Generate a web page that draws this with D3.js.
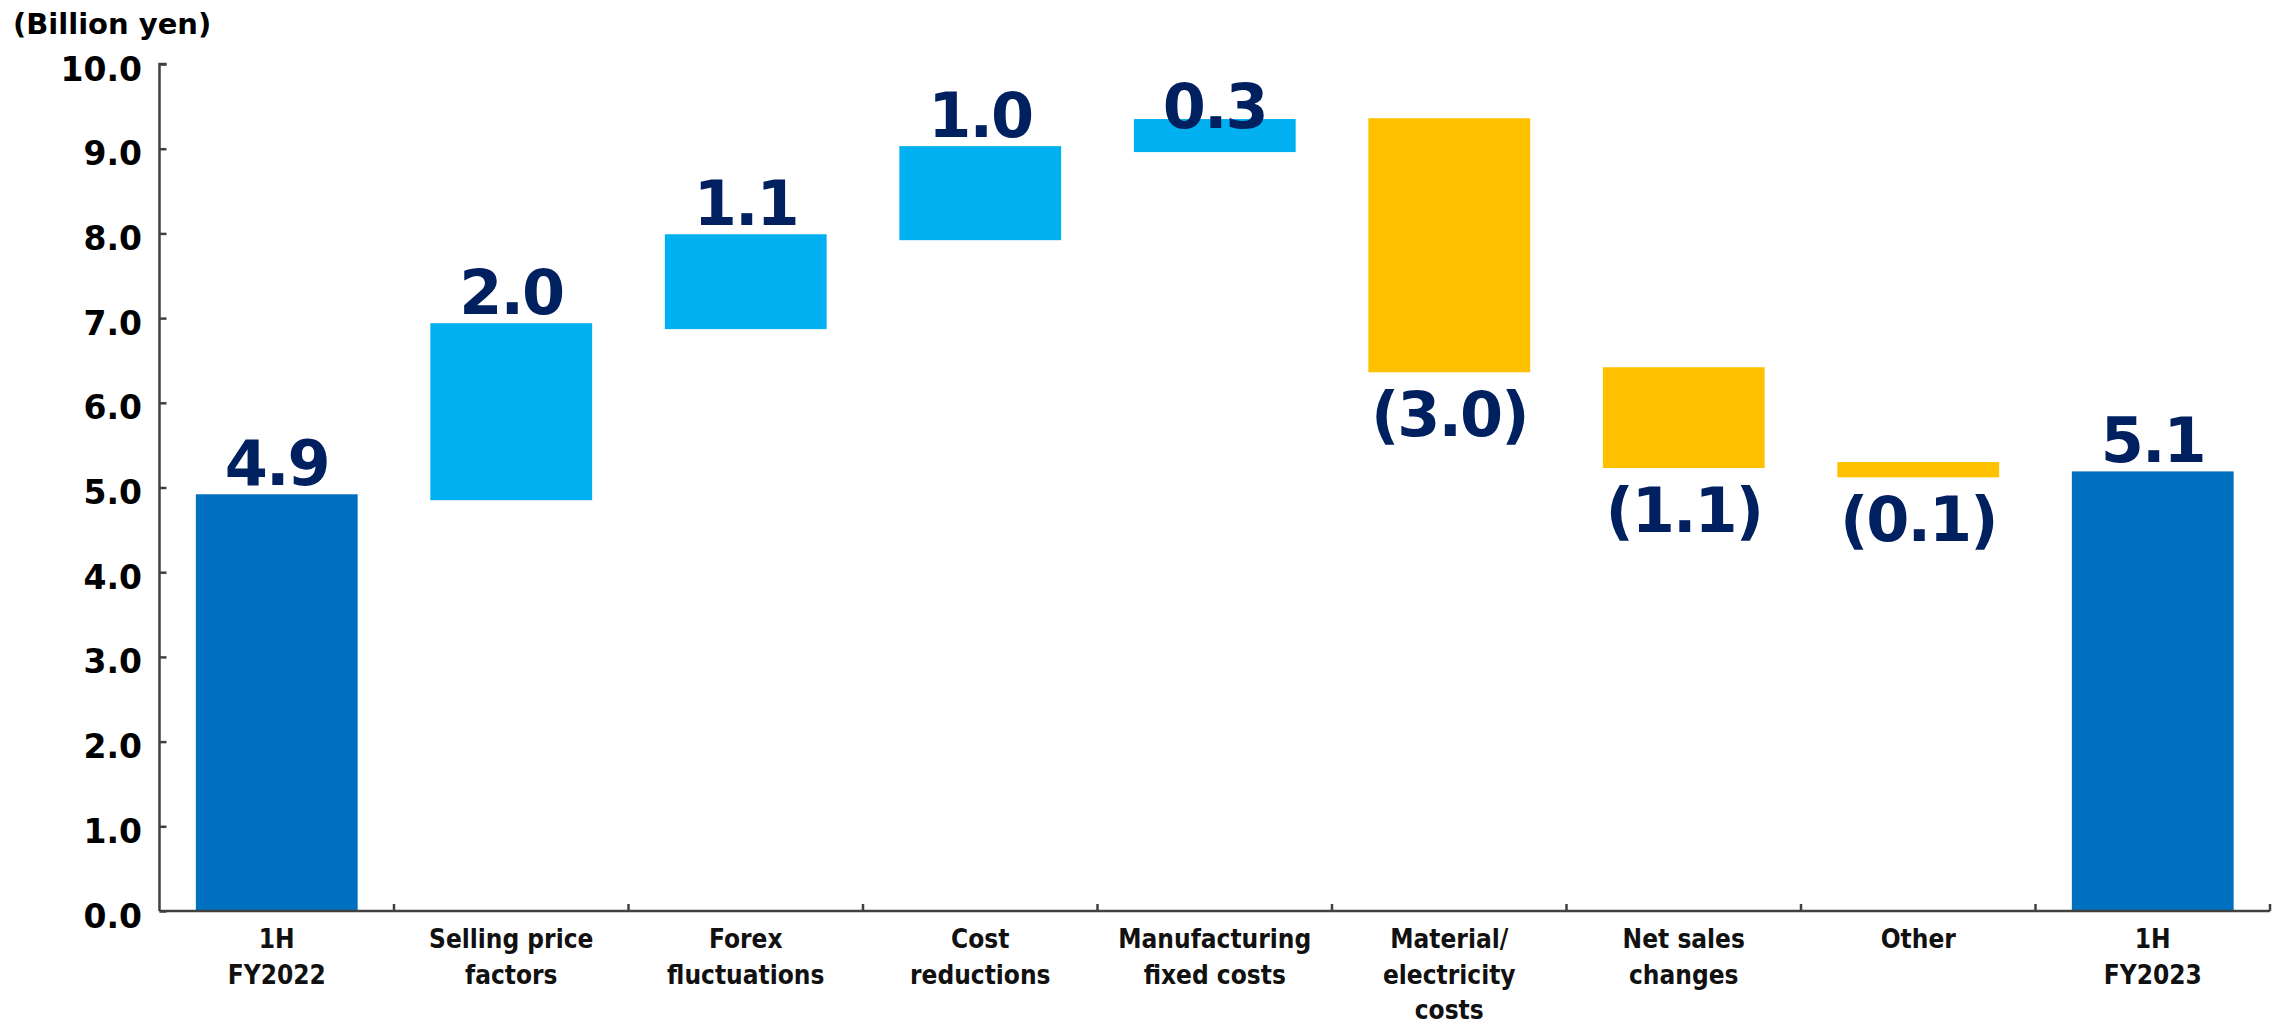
<!DOCTYPE html>
<html>
<head>
<meta charset="utf-8">
<script src="https://cdn.jsdelivr.net/npm/d3@7"></script>
<style>
  html, body { margin: 0; padding: 0; background: #fff; }
  svg { display: block; }
</style>
</head>
<body>
<svg id="chart" width="2285" height="1026"></svg>
<script>
// ---- data ----
const categories = [
  ["1H", "FY2022"],
  ["Selling price", "factors"],
  ["Forex", "fluctuations"],
  ["Cost", "reductions"],
  ["Manufacturing", "fixed costs"],
  ["Material/", "electricity", "costs"],
  ["Net sales", "changes"],
  ["Other"],
  ["1H", "FY2023"]
];
const valueLabels = ["4.9", "2.0", "1.1", "1.0", "0.3", "(3.0)", "(1.1)", "(0.1)", "5.1"];
const barStart = [0, 4.85, 6.87, 7.92, 8.96, 9.36, 6.42, 5.30, 0];
const barEnd   = [4.92, 6.94, 7.99, 9.03, 9.35, 6.36, 5.23, 5.12, 5.19];
const barKind  = ["total", "up", "up", "up", "up", "down", "down", "down", "total"];
const yTickValues = [0, 1, 2, 3, 4, 5, 6, 7, 8, 9, 10];
const unitLabel = "(Billion yen)";

// ---- layout ----
const svg = d3.select("#chart");
const plotLeft = 159.5, plotRight = 2270, plotTop = 64, plotBottom = 911;
const colors = { total: "#0070C0", up: "#00B0F0", down: "#FFC000" };
const labelColor = "#002060";

const x = d3.scaleBand()
  .domain(d3.range(categories.length))
  .range([plotLeft, plotRight])
  .paddingInner(0.31)
  .paddingOuter(0.155);
const step = x.step();

const y = d3.scaleLinear().domain([0, 10]).range([plotBottom, plotTop]);

// bars
svg.append("g").selectAll("rect")
  .data(d3.range(categories.length))
  .join("rect")
  .attr("x", i => x(i))
  .attr("width", x.bandwidth())
  .attr("y", i => y(Math.max(barStart[i], barEnd[i])))
  .attr("height", i => Math.abs(y(barStart[i]) - y(barEnd[i])))
  .attr("fill", i => colors[barKind[i]]);

// value labels
svg.append("g").selectAll("text")
  .data(d3.range(categories.length))
  .join("text")
  .attr("x", i => x(i) + x.bandwidth() / 2)
  .attr("y", i => {
    if (barKind[i] === "down") return y(Math.min(barStart[i], barEnd[i])) + 63.5;
    return Math.max(y(Math.max(barStart[i], barEnd[i])) - 9, plotTop + 64);
  })
  .attr("text-anchor", "middle")
  .attr("font-family", "'DejaVu Sans', Verdana, sans-serif")
  .attr("font-weight", "bold")
  .attr("font-size", 62)
  .attr("letter-spacing", -2)
  .attr("fill", labelColor)
  .text(i => valueLabels[i]);

// y axis
const yAxis = d3.axisRight(y)
  .tickValues(yTickValues)
  .tickSize(7)
  .tickFormat("");
const gy = svg.append("g").attr("transform", `translate(${plotLeft},0)`).call(yAxis);
gy.select(".domain").attr("d", `M7,${plotTop}H0V${plotBottom}`);
gy.selectAll("path, line").attr("stroke", "#404040").attr("stroke-width", 2.5);

svg.append("g").selectAll("text")
  .data(yTickValues)
  .join("text")
  .attr("x", 142)
  .attr("y", d => y(d) + 16.5)
  .attr("text-anchor", "end")
  .attr("font-family", "'DejaVu Sans', Verdana, sans-serif")
  .attr("font-weight", "bold")
  .attr("font-size", 33)
  .attr("fill", "#000")
  .text(d3.format(".1f"));

// x axis
const boundaries = d3.range(1, categories.length + 1).map(i => plotLeft + i * step);
const gx = svg.append("g");
gx.append("line")
  .attr("x1", plotLeft).attr("x2", plotRight)
  .attr("y1", plotBottom).attr("y2", plotBottom)
  .attr("stroke", "#404040").attr("stroke-width", 2.5);
gx.selectAll("line.tick")
  .data(boundaries)
  .join("line")
  .attr("class", "tick")
  .attr("x1", d => d).attr("x2", d => d)
  .attr("y1", plotBottom).attr("y2", plotBottom - 7)
  .attr("stroke", "#404040").attr("stroke-width", 2.5);

// category labels
const catG = svg.append("g").selectAll("text")
  .data(d3.range(categories.length))
  .join("text")
  .attr("x", i => x(i) + x.bandwidth() / 2)
  .attr("y", 948)
  .attr("text-anchor", "middle")
  .attr("font-family", "'DejaVu Sans Condensed', 'DejaVu Sans', sans-serif")
  .attr("font-weight", "bold")
  .attr("font-size", 26)
  .attr("fill", "#111");
catG.selectAll("tspan")
  .data(i => categories[i].map(t => ({ t, cx: x(i) + x.bandwidth() / 2 })))
  .join("tspan")
  .attr("x", d => d.cx)
  .attr("dy", (d, j) => j === 0 ? 0 : 35.5)
  .text(d => d.t);

// unit label
svg.append("text")
  .attr("x", 13)
  .attr("y", 33.5)
  .attr("font-family", "'DejaVu Sans', Verdana, sans-serif")
  .attr("font-weight", "bold")
  .attr("font-size", 29)
  .attr("fill", "#000")
  .text(unitLabel);
</script>
</body>
</html>
